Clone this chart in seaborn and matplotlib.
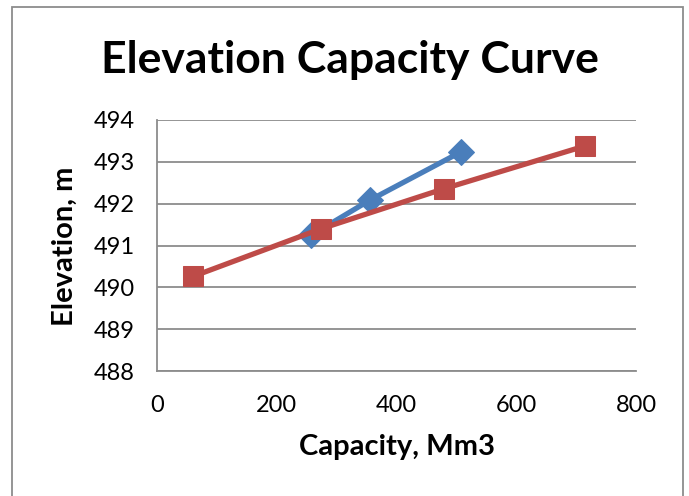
import matplotlib
matplotlib.use("Agg")
import matplotlib.pyplot as plt
import seaborn as sns
import pandas as pd
from matplotlib.patches import Rectangle

# Data
blue_capacity = [258, 355, 508]
blue_elevation = [491.25, 492.08, 493.24]
red_capacity = [60, 274, 480, 715]
red_elevation = [490.26, 491.40, 492.36, 493.38]
x_ticks = [0, 200, 400, 600, 800]
y_ticks = [488, 489, 490, 491, 492, 493, 494]

sns.set_style("white")
plt.rcParams['font.family'] = ['Lato', 'DejaVu Sans']
plt.rcParams['text.color'] = 'black'

fig = plt.figure(figsize=(6.89, 4.96), dpi=100)
ax = fig.add_axes([157/689, 1-371/496, (636-157)/689, (371-120)/496])

df_b = pd.DataFrame({"cap": blue_capacity, "elev": blue_elevation})
df_r = pd.DataFrame({"cap": red_capacity, "elev": red_elevation})

sns.lineplot(data=df_b, x="cap", y="elev", ax=ax, color="#4a7ebb", lw=3.8,
             marker="D", markersize=13, markeredgecolor="#4a7ebb", sort=False, zorder=3)
sns.lineplot(data=df_r, x="cap", y="elev", ax=ax, color="#be4b48", lw=3.8,
             marker="s", markersize=14, markeredgecolor="#be4b48", sort=False, zorder=4)

ax.set_xlim(0, 800)
ax.set_ylim(488, 494)
ax.set_xticks(x_ticks)
ax.set_yticks(y_ticks)
ax.tick_params(axis='both', labelsize=17, length=0, colors='black')
ax.tick_params(axis='y', pad=16)
ax.tick_params(axis='x', pad=17)
ax.grid(axis='y', color='#8c8c8c', lw=1.3)
ax.grid(axis='x', visible=False)
for s in ['top', 'right']:
    ax.spines[s].set_visible(False)
for s in ['left', 'bottom']:
    ax.spines[s].set_color('#8c8c8c')
    ax.spines[s].set_linewidth(1.3)

ax.set_xlabel("Capacity, Mm3", fontsize=21, fontweight='bold', color='black')
ax.set_ylabel("Elevation, m", fontsize=21, fontweight='bold', color='black')
ax.xaxis.set_label_coords((397-157)/(636-157), -(447-371)/(371-120), transform=ax.transAxes)
ax.yaxis.set_label_coords(-(157-65)/(636-157), (371-246)/(371-120), transform=ax.transAxes)
ax.xaxis.label.set_va('center')
ax.yaxis.label.set_va('center')

fig.text(350/689, 1-60/496, "Elevation Capacity Curve", fontsize=32, fontweight='bold',
         ha='center', va='center', color='black')

fig.patches.append(Rectangle((12/689, -0.02), (683-12)/689, 1-7/496+0.02,
                             transform=fig.transFigure, fill=False,
                             edgecolor='#8c8c8c', lw=1.3))

fig.savefig("out.png", dpi=100)
